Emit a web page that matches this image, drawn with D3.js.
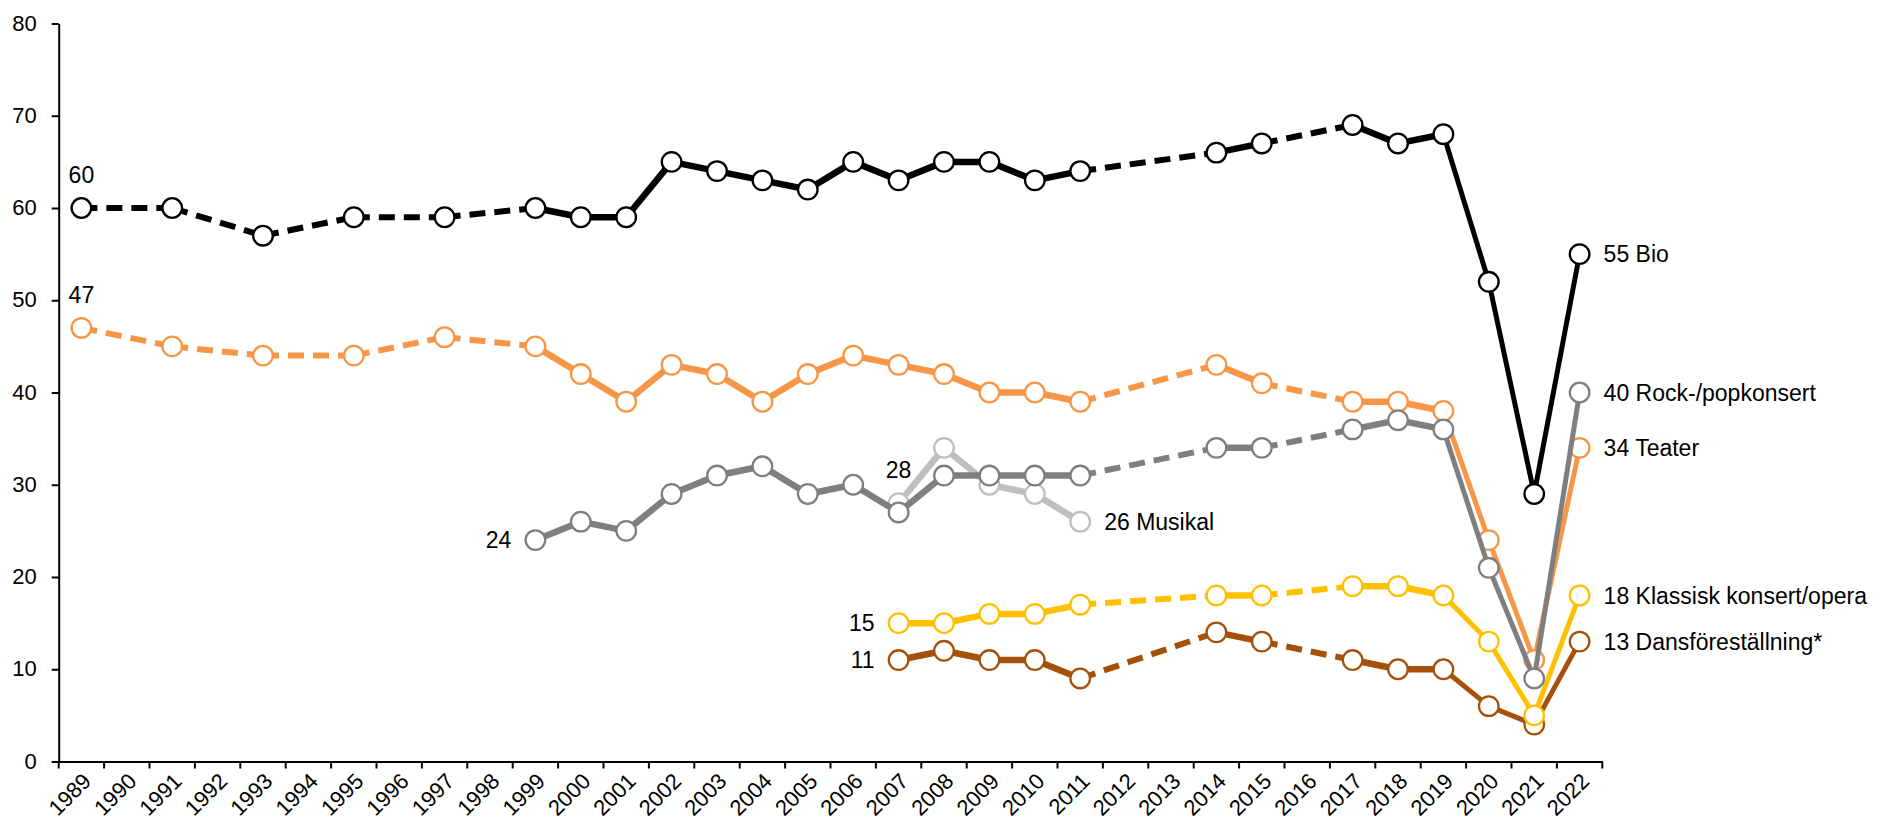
<!DOCTYPE html>
<html>
<head>
<meta charset="utf-8">
<script src="https://cdn.jsdelivr.net/npm/d3@7"></script>
<style>
  html, body { margin: 0; padding: 0; background: #fff; }
  svg { display: block; font-family: "Liberation Sans", Arial, sans-serif; }
</style>
</head>
<body>
<svg id="chart" width="1883" height="828"></svg>
<script>
// ---- Data ----
const axisYears = ["1989","1990","1991","1992","1993","1994","1995","1996","1997","1998","1999","2000","2001","2002","2003","2004","2005","2006","2007","2008","2009","2010","2011","2012","2013","2014","2015","2016","2017","2018","2019","2020","2021","2022"];
const yTicks = [0, 10, 20, 30, 40, 50, 60, 70, 80];

const longYears = [1989,1991,1993,1995,1997,1999,2000,2001,2002,2003,2004,2005,2006,2007,2008,2009,2010,2011,2014,2015,2017,2018,2019,2020,2021,2022];
const bioValues    = [60,60,57,59,59,60,59,59,65,64,63,62,65,63,65,65,63,64,66,67,69,67,68,52,29,55];
const teaterValues = [47,45,44,44,46,45,42,39,43,42,39,42,44,43,42,40,40,39,43,41,39,39,38,24,11,34];

const rockYears  = [1999,2000,2001,2002,2003,2004,2005,2006,2007,2008,2009,2010,2011,2014,2015,2017,2018,2019,2020,2021,2022];
const rockValues = [24,26,25,29,31,32,29,30,27,31,31,31,31,34,34,36,37,36,21,9,40];

const musikalYears  = [2007,2008,2009,2010,2011];
const musikalValues = [28,34,30,29,26];

const shortYears     = [2007,2008,2009,2010,2011,2014,2015,2017,2018,2019,2020,2021,2022];
const klassiskValues = [15,15,16,16,17,18,18,19,19,18,13,5,18];
const dansValues     = [11,12,11,11,9,14,13,11,10,10,6,4,13];

const seriesNames = ["Musikal","Dansföreställning*","Klassisk konsert/opera","Teater","Rock-/popkonsert","Bio"];

// ---- Build series (drawing order: bottom to top) ----
const series = [
  {name: seriesNames[0], years: musikalYears, values: musikalValues, color: "#BFBFBF", start: "above"},
  {name: seriesNames[1], years: shortYears,   values: dansValues,    color: "#A5510A", start: "left"},
  {name: seriesNames[2], years: shortYears,   values: klassiskValues,color: "#FFC000", start: "left"},
  {name: seriesNames[3], years: longYears,    values: teaterValues,  color: "#F79646", start: "above"},
  {name: seriesNames[4], years: rockYears,    values: rockValues,    color: "#7F7F7F", start: "left"},
  {name: seriesNames[5], years: longYears,    values: bioValues,     color: "#000000", start: "above"}
];

// ---- Layout ----
const svg = d3.select("#chart");
const x0 = 58.7, x1 = 1602.3, yTop = 23.5, yBot = 761.5;
const FONT = 22, LFONT = 23;

const x = d3.scaleBand().domain(axisYears).range([x0, x1]).padding(0);
const y = d3.scaleLinear().domain([0, 80]).range([yBot, yTop]);
const cx = yr => x(String(yr)) + x.bandwidth() / 2;

// Y axis
const yAxis = svg.append("g")
  .attr("transform", `translate(${x0},0)`)
  .call(d3.axisLeft(y).tickValues(yTicks).tickSize(7).tickSizeOuter(0).tickPadding(15));
yAxis.select(".domain").attr("stroke", "#000").attr("stroke-width", 2);
yAxis.selectAll(".tick line").attr("stroke", "#000").attr("stroke-width", 2);
yAxis.selectAll(".tick text").attr("font-size", FONT).attr("fill", "#000")
  .attr("font-family", "Liberation Sans, Arial, sans-serif").attr("dy", "0.3em");

// X axis
const xAxis = svg.append("g")
  .attr("transform", `translate(0,${yBot})`)
  .call(d3.axisBottom(x).tickSize(0).tickSizeOuter(0));
xAxis.select(".domain").attr("stroke", "#000").attr("stroke-width", 2);
xAxis.selectAll(".tick text")
  .attr("font-size", FONT).attr("fill", "#000")
  .attr("font-family", "Liberation Sans, Arial, sans-serif")
  .attr("x", 0).attr("y", 0).attr("dy", 0)
  .attr("text-anchor", "end")
  .attr("transform", "translate(11,21) rotate(-45)");
// boundary tick marks
const bounds = axisYears.map(d => x(d)).concat([x1]);
xAxis.selectAll("line.bound").data(bounds).enter().append("line")
  .attr("class", "bound")
  .attr("x1", d => d).attr("x2", d => d)
  .attr("y1", 0).attr("y2", 7)
  .attr("stroke", "#000").attr("stroke-width", 2);

// ---- Lines & markers ----
const line = d3.line().x(d => cx(d[0])).y(d => y(d[1]));
const plot = svg.append("g");

series.forEach(s => {
  const g = plot.append("g");
  const pts = s.years.map((yr, i) => [yr, s.values[i]]);
  for (let i = 0; i < pts.length - 1; i++) {
    const a = pts[i], b = pts[i + 1];
    const dashed = (b[0] - a[0]) > 1;
    const late = a[0] >= 2019;
    g.append("path")
      .attr("d", line([a, b]))
      .attr("fill", "none")
      .attr("stroke", s.color)
      .attr("stroke-width", dashed ? 6 : (late ? 5 : 6.5))
      .attr("stroke-dasharray", dashed ? "16,9" : null)
      .attr("stroke-linecap", "butt");
  }
  g.selectAll("circle").data(pts).enter().append("circle")
    .attr("cx", d => cx(d[0])).attr("cy", d => y(d[1]))
    .attr("r", 9.8)
    .attr("fill", "#fff")
    .attr("stroke", s.color)
    .attr("stroke-width", 2.3);

  // start label
  const f = pts[0];
  const st = g.append("text").attr("font-size", LFONT).attr("fill", "#000").text(f[1]);
  if (s.start === "above") {
    st.attr("x", cx(f[0])).attr("y", y(f[1]) - 25).attr("text-anchor", "middle");
  } else {
    st.attr("x", cx(f[0]) - 24).attr("y", y(f[1])).attr("dy", "0.35em").attr("text-anchor", "end");
  }
  // end label
  const l = pts[pts.length - 1];
  g.append("text").attr("font-size", LFONT).attr("fill", "#000")
    .attr("x", cx(l[0]) + 24).attr("y", y(l[1])).attr("dy", "0.35em")
    .text(`${l[1]} ${s.name}`);
});
</script>
</body>
</html>
